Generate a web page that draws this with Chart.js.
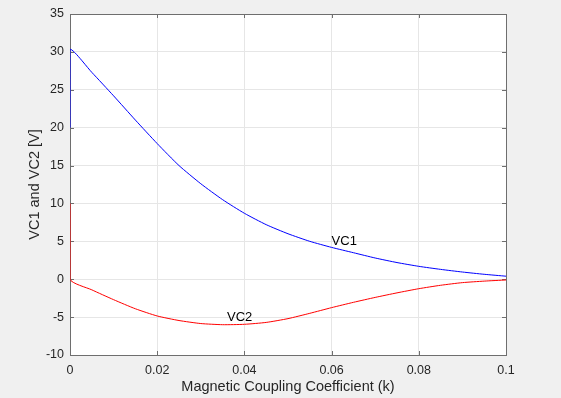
<!DOCTYPE html>
<html>
<head>
<meta charset="utf-8">
<script src="https://cdn.jsdelivr.net/npm/chart.js@4/dist/chart.umd.min.js"></script>
<style>
  html, body { margin: 0; padding: 0; background: #f0f0f0; }
  #wrap { width: 561px; height: 398px; }
</style>
</head>
<body>
<div id="wrap"><canvas id="c" width="561" height="398"></canvas></div>
<script>
// k values (x axis)
const kValues = [0, 0, 0.005, 0.01, 0.015, 0.02, 0.025, 0.03, 0.035, 0.04, 0.045, 0.05,
  0.055, 0.06, 0.065, 0.07, 0.075, 0.08, 0.085, 0.09, 0.095, 0.1];
const vc1 = [20, 30.3, 27.3, 24.2, 21.0, 17.9, 15.0, 12.6, 10.5, 8.7, 7.2, 6.0,
  5.0, 4.2, 3.5, 2.8, 2.2, 1.7, 1.3, 0.95, 0.65, 0.4];
const vc2 = [10, 0, -1.4, -2.7, -3.9, -4.85, -5.45, -5.85, -6.0, -5.95, -5.7, -5.2,
  -4.5, -3.75, -3.05, -2.4, -1.8, -1.25, -0.8, -0.45, -0.25, -0.1];

// curve annotations (x, y, text)
const notes = [
  { x: 0.06, y: 5, text: "VC1" },
  { x: 0.036, y: -5, text: "VC2" },
];

const xTicks = [0, 0.02, 0.04, 0.06, 0.08, 0.1];
const yTicks = [-10, -5, 0, 5, 10, 15, 20, 25, 30, 35];

const toPoints = (ys) => ys.map((y, i) => ({ x: kValues[i], y }));

const FONT = "'Liberation Sans', Arial, sans-serif";
const AXIS_COLOR = "#262626";

// white plot area, box + inward ticks under the curves, text labels on top
const matlabAxes = {
  id: "matlabAxes",
  beforeDraw(chart) {
    const { ctx, chartArea: a } = chart;
    ctx.save();
    ctx.fillStyle = "#ffffff";
    ctx.fillRect(a.left, a.top, a.right - a.left, a.bottom - a.top);
    ctx.restore();
  },
  beforeDatasetsDraw(chart) {
    const { ctx, chartArea: a, scales } = chart;
    ctx.save();
    ctx.strokeStyle = "#6e6e6e";
    ctx.lineWidth = 1;
    ctx.beginPath();
    for (const t of xTicks) {
      const px = Math.round(scales.x.getPixelForValue(t)) + 0.5;
      ctx.moveTo(px, a.bottom); ctx.lineTo(px, a.bottom - 4);
      ctx.moveTo(px, a.top); ctx.lineTo(px, a.top + 4);
    }
    for (const t of yTicks) {
      const py = Math.round(scales.y.getPixelForValue(t)) + 0.5;
      ctx.moveTo(a.left, py); ctx.lineTo(a.left + 4, py);
      ctx.moveTo(a.right, py); ctx.lineTo(a.right - 4, py);
    }
    ctx.stroke();
    ctx.strokeRect(Math.round(a.left) + 0.5, Math.round(a.top) + 0.5,
      Math.round(a.right - a.left), Math.round(a.bottom - a.top));
    ctx.restore();
  },
  afterDatasetsDraw(chart) {
    const { ctx, scales } = chart;
    ctx.save();
    ctx.fillStyle = "#000000";
    ctx.font = "13px " + FONT;
    ctx.textAlign = "left";
    ctx.textBaseline = "middle";
    for (const n of notes) {
      ctx.fillText(n.text, scales.x.getPixelForValue(n.x), scales.y.getPixelForValue(n.y));
    }
    ctx.restore();
  },
};

new Chart(document.getElementById("c"), {
  type: "line",
  data: {
    datasets: [
      {
        label: "VC1",
        data: toPoints(vc1),
        borderColor: "#0000ff",
        borderWidth: 1,
        pointRadius: 0,
        tension: 0.2,
      },
      {
        label: "VC2",
        data: toPoints(vc2),
        borderColor: "#ff0000",
        borderWidth: 1,
        pointRadius: 0,
        tension: 0.2,
      },
    ],
  },
  options: {
    responsive: false,
    animation: false,
    layout: { padding: { top: 14, right: 55, left: 0, bottom: 0 } },
    plugins: { legend: { display: false }, tooltip: { enabled: false } },
    scales: {
      x: {
        type: "linear",
        min: 0,
        max: 0.1,
        afterBuildTicks: (s) => { s.ticks = xTicks.map((v) => ({ value: v })); },
        afterFit: (s) => { s.height = 43; },
        grid: { color: "#e6e6e6", drawTicks: false },
        border: { display: false },
        ticks: {
          padding: 8,
          color: AXIS_COLOR,
          font: { family: FONT, size: 12.5 },
          callback: (v) => String(v),
          maxRotation: 0,
        },
        title: {
          display: true,
          text: "Magnetic Coupling Coefficient (k)",
          color: AXIS_COLOR,
          font: { family: FONT, size: 14.5 },
          padding: { top: 2, bottom: 2 },
        },
      },
      y: {
        type: "linear",
        min: -10,
        max: 35,
        afterBuildTicks: (s) => { s.ticks = yTicks.map((v) => ({ value: v })); },
        afterFit: (s) => { s.width = 70; },
        grid: { color: "#e6e6e6", drawTicks: false },
        border: { display: false },
        ticks: {
          padding: 6,
          color: AXIS_COLOR,
          font: { family: FONT, size: 12.5 },
        },
        title: {
          display: true,
          text: "VC1 and VC2 [V]",
          color: AXIS_COLOR,
          font: { family: FONT, size: 14.5 },
          padding: { top: 26, bottom: 0 },
        },
      },
    },
  },
  plugins: [matlabAxes],
});
</script>
</body>
</html>
